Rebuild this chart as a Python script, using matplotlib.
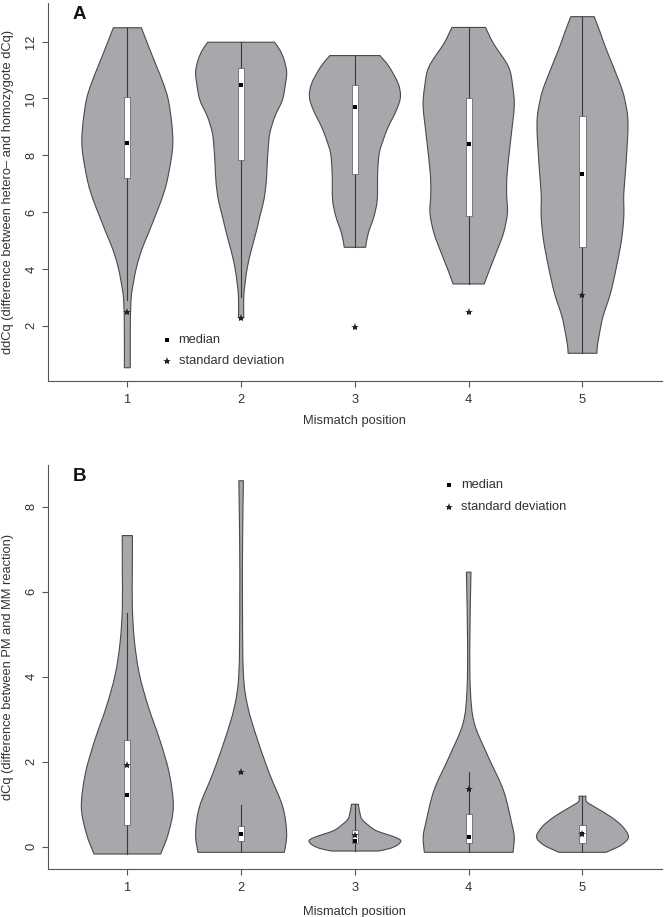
import matplotlib
matplotlib.use("Agg")
import matplotlib.pyplot as plt
from matplotlib.path import Path
from matplotlib.patches import PathPatch, Rectangle

plt.rcParams['font.family'] = ['Liberation Sans', 'DejaVu Sans']

positions = [1, 2, 3, 4, 5]
xtick_labels = ['1', '2', '3', '4', '5']

# ---------------- Panel A data ----------------
a_v1_y = [0.52, 1.73, 2.9, 3.5, 4.08, 4.67, 5.25, 5.84, 6.43, 7.02, 7.83, 8.43, 9.13, 9.95, 10.53, 11.12, 11.7, 12.49]
a_v1_w = [0.026, 0.026, 0.032, 0.053, 0.082, 0.126, 0.185, 0.243, 0.30, 0.345, 0.384, 0.40, 0.39, 0.36, 0.316, 0.258, 0.20, 0.123]
a_v2_y = [2.28, 3.0, 3.5, 4.08, 4.67, 5.25, 5.84, 6.43, 7.02, 7.6, 8.19, 8.77, 9.36, 9.95, 10.53, 10.94, 11.36, 11.71, 11.98]
a_v2_w = [0.023, 0.023, 0.035, 0.056, 0.09, 0.129, 0.164, 0.20, 0.22, 0.228, 0.237, 0.252, 0.296, 0.363, 0.39, 0.40, 0.378, 0.34, 0.293]
a_v3_y = [4.76, 5.25, 5.84, 6.43, 7.37, 8.07, 8.54, 9.0, 9.6, 10.06, 10.53, 11.12, 11.51]
a_v3_w = [0.094, 0.117, 0.167, 0.196, 0.20, 0.214, 0.249, 0.293, 0.366, 0.40, 0.38, 0.30, 0.22]
a_v4_y = [3.47, 3.96, 4.55, 5.25, 5.96, 6.66, 7.37, 8.54, 9.71, 10.42, 11.12, 11.94, 12.5]
a_v4_w = [0.137, 0.182, 0.24, 0.305, 0.34, 0.333, 0.338, 0.369, 0.40, 0.387, 0.349, 0.217, 0.148]
a_v5_y = [1.03, 1.26, 1.74, 2.32, 3.14, 4.08, 5.02, 5.84, 6.66, 7.6, 9.13, 9.95, 10.54, 11.71, 12.3, 12.88]
a_v5_w = [0.127, 0.13, 0.15, 0.18, 0.246, 0.299, 0.343, 0.363, 0.363, 0.381, 0.40, 0.372, 0.328, 0.211, 0.158, 0.103]

a_q1 = [7.19, 7.83, 7.33, 5.86, 4.78]
a_q3 = [10.06, 11.06, 10.49, 10.03, 9.37]
a_median = [8.44, 10.46, 9.71, 8.40, 7.34]
a_whisk_lo = [2.9, 3.0, 4.76, 3.47, 1.03]
a_whisk_hi = [12.49, 11.98, 11.51, 12.5, 12.88]
a_sd = [2.47, 2.28, 1.96, 2.47, 3.08]

# ---------------- Panel B data ----------------
b_v1_y = [-0.17, 0.31, 0.94, 1.72, 2.5, 3.29, 4.07, 4.85, 5.63, 6.5, 7.32]
b_v1_w = [0.293, 0.36, 0.404, 0.369, 0.287, 0.185, 0.105, 0.062, 0.044, 0.044, 0.045]
b_v2_y = [-0.13, 0.31, 0.94, 1.72, 2.5, 3.29, 4.07, 5.63, 7.2, 8.61]
b_v2_w = [0.38, 0.40, 0.366, 0.249, 0.146, 0.059, 0.02, 0.012, 0.013, 0.02]
b_v3_y = [-0.10, -0.04, 0.04, 0.134, 0.2, 0.275, 0.35, 0.43, 0.63, 0.79, 1.0]
b_v3_w = [0.205, 0.307, 0.373, 0.404, 0.375, 0.30, 0.214, 0.155, 0.067, 0.044, 0.03]
b_v4_y = [-0.13, 0.23, 0.55, 1.33, 2.11, 2.9, 3.68, 4.85, 6.46]
b_v4_w = [0.39, 0.40, 0.378, 0.305, 0.173, 0.05, 0.015, 0.01, 0.02]
b_v5_y = [-0.13, 0.04, 0.23, 0.47, 0.7, 0.94, 1.06, 1.19]
b_v5_w = [0.208, 0.34, 0.404, 0.354, 0.252, 0.105, 0.035, 0.031]

b_q1 = [0.51, 0.13, 0.08, 0.08, 0.10]
b_q3 = [2.5, 0.49, 0.39, 0.76, 0.51]
b_median = [1.21, 0.29, 0.14, 0.23, 0.29]
b_whisk_lo = [-0.17, -0.13, -0.10, -0.13, -0.13]
b_whisk_hi = [5.5, 0.99, 1.0, 1.76, 1.19]
b_sd = [1.92, 1.76, 0.27, 1.35, 0.29]

FILL = '#a7a8ac'
EDGE = '#4a4a4a'
TXT = '#333333'
FS = 9.3


def catmull(pts):
    """Bezier (CURVE4) segments through pts."""
    verts, codes = [], []
    n = len(pts)
    for i in range(n - 1):
        p0 = pts[i - 1] if i > 0 else pts[i]
        p1 = pts[i]
        p2 = pts[i + 1]
        p3 = pts[i + 2] if i + 2 < n else pts[i + 1]
        c1 = (p1[0] + (p2[0] - p0[0]) / 6.0, p1[1] + (p2[1] - p0[1]) / 6.0)
        c2 = (p2[0] - (p3[0] - p1[0]) / 6.0, p2[1] - (p3[1] - p1[1]) / 6.0)
        verts += [c1, c2, p2]
        codes += [Path.CURVE4] * 3
    return verts, codes


def violin(ax, pos, ys, ws):
    right = [(pos + w, y) for y, w in zip(ys, ws)]
    left = [(pos - w, y) for y, w in zip(ys, ws)][::-1]
    verts = [(pos - ws[0], ys[0]), (pos + ws[0], ys[0])]
    codes = [Path.MOVETO, Path.LINETO]
    v, c = catmull(right)
    verts += v
    codes += c
    verts.append(left[0])
    codes.append(Path.LINETO)
    v, c = catmull(left)
    verts += v
    codes += c
    verts.append((pos - ws[0], ys[0]))
    codes.append(Path.CLOSEPOLY)
    ax.add_patch(PathPatch(Path(verts, codes), facecolor=FILL, edgecolor=EDGE,
                           lw=0.8, zorder=2))


def panel(ax, profiles, q1, q3, med, wlo, whi, sd, ylim, yticks, ylabel,
          letter, leg_xy):
    for pos, (ys, ws), a, b, m, lo, hi, s in zip(positions, profiles, q1, q3,
                                                  med, wlo, whi, sd):
        violin(ax, pos, ys, ws)
        ax.plot([pos, pos], [lo, hi], color='#3a3a3a', lw=0.8, zorder=3)
        ax.add_patch(Rectangle((pos - 0.027, a), 0.054, b - a, facecolor='white',
                               edgecolor='#555555', lw=0.5, zorder=4))
        ax.plot(pos, m, marker='s', ms=2.3, color='black', mew=0, zorder=5)
        ax.plot(pos, s, marker='*', ms=6, color='#222222', mew=0, zorder=6)
    ax.set_xlim(0.3, 5.7)
    ax.set_ylim(*ylim)
    ax.set_xticks(positions)
    ax.set_xticklabels(xtick_labels)
    ax.set_yticks(yticks)
    ax.set_yticklabels([str(t) for t in yticks], rotation=90, va='center')
    for sp in ['top', 'right']:
        ax.spines[sp].set_visible(False)
    for sp in ['left', 'bottom']:
        ax.spines[sp].set_color('#555555')
        ax.spines[sp].set_linewidth(0.8)
    ax.tick_params(axis='both', colors='#555555', labelcolor=TXT,
                   labelsize=FS, length=4.5, width=0.8)
    ax.tick_params(axis='x', pad=4.5)
    ax.tick_params(axis='y', pad=3)
    ax.set_xlabel('Mismatch position', fontsize=FS, color=TXT)
    ax.xaxis.set_label_coords(0.5, -0.106)
    ax.xaxis.label.set_va('center')
    ax.set_ylabel(ylabel, fontsize=FS, color=TXT)
    ax.yaxis.set_label_coords(-0.064, 0.5)
    ax.yaxis.label.set_va('center')
    ax.text(0.051, 0.993, letter, transform=ax.transAxes, fontsize=13.5,
            fontweight='heavy', color='#111111', ha='center', va='top')
    lx, ly1, ly2 = leg_xy
    ax.plot(lx, ly1, marker='s', ms=2.3, color='black', mew=0, clip_on=False)
    ax.plot(lx, ly2, marker='*', ms=6, color='#222222', mew=0, clip_on=False)
    ax.text(lx + 0.1, ly1, 'median', fontsize=FS, color=TXT, va='center')
    ax.text(lx + 0.1, ly2, 'standard deviation', fontsize=FS, color=TXT,
            va='center')


fig = plt.figure(figsize=(6.65, 9.17), dpi=100)
axA = fig.add_axes([0.0717, 0.5845, 0.924, 0.4122])
axB = fig.add_axes([0.0717, 0.0520, 0.924, 0.4409])

panel(axA,
      [(a_v1_y, a_v1_w), (a_v2_y, a_v2_w), (a_v3_y, a_v3_w), (a_v4_y, a_v4_w), (a_v5_y, a_v5_w)],
      a_q1, a_q3, a_median, a_whisk_lo, a_whisk_hi, a_sd,
      (0.053, 13.36), [2, 4, 6, 8, 10, 12],
      'ddCq (difference between hetero\u2013 and homozygote dCq)', 'A',
      (1.35, 1.5, 0.76))

panel(axB,
      [(b_v1_y, b_v1_w), (b_v2_y, b_v2_w), (b_v3_y, b_v3_w), (b_v4_y, b_v4_w), (b_v5_y, b_v5_w)],
      b_q1, b_q3, b_median, b_whisk_lo, b_whisk_hi, b_sd,
      (-0.53, 8.98), [0, 2, 4, 6, 8],
      'dCq (difference between PM and MM reaction)', 'B',
      (3.83, 8.51, 8.0))

fig.savefig('out.png', dpi=100)
